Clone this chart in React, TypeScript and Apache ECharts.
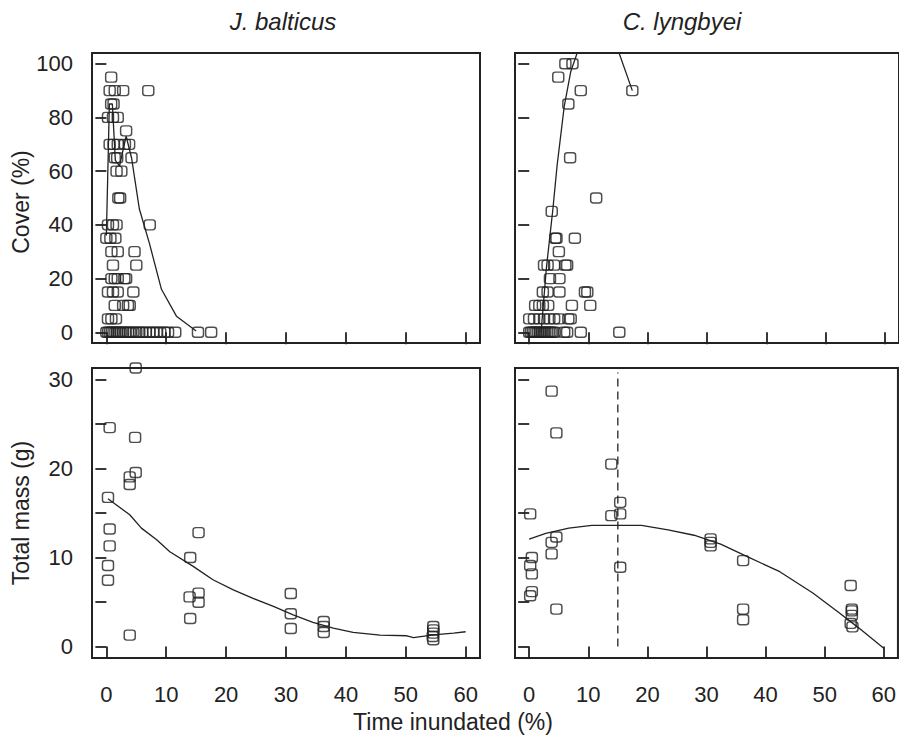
import React, { useEffect, useRef } from "react";
import * as echarts from "echarts";

// ---------- Data ----------
const xTicks = [0, 10, 20, 30, 40, 50, 60];
const coverTicks = [0, 20, 40, 60, 80, 100];
const massTicks = [0, 5, 10, 15, 20, 25, 30];
const massLabels = [0, 10, 20, 30];

// J. balticus – cover (%) vs time inundated (%)
const jbCoverX = [
  0.8,
  0.55, 1.4, 2.8, 7.0,
  0.8, 1.2,
  0.27, 1.1, 1.9,
  3.3,
  0.55, 1.2, 1.9, 3.1, 3.8,
  1.4, 1.8, 4.2,
  1.7, 2.5,
  2.0, 2.3,
  0.27, 1.1, 1.7, 7.25,
  0, 0.67, 1.5,
  0.84, 1.9, 4.7,
  1.1, 5.0,
  0.84, 1.4, 1.9, 3.0, 3.3,
  0.27, 1.1, 1.9, 4.5,
  1.4, 2.8, 3.6, 3.9,
  0.27, 0.84, 1.6,
  0, 0.3, 0.6, 0.9, 1.2, 1.5, 1.8, 2.1, 2.4, 2.8, 3.2, 3.6, 4.0, 4.5, 5.0, 5.5, 6.0, 6.6, 7.2, 7.8, 8.4, 9.0, 9.7, 10.3, 11.5, 15.3, 17.5,
];
const jbCoverY = [
  95,
  90, 90, 90, 90,
  85, 85,
  80, 80, 80,
  75,
  70, 70, 70, 70, 70,
  65, 65, 65,
  60, 60,
  50, 50,
  40, 40, 40, 40,
  35, 35, 35,
  30, 30, 30,
  25, 25,
  20, 20, 20, 20, 20,
  15, 15, 15, 15,
  10, 10, 10, 10,
  5, 5, 5,
  0, 0, 0, 0, 0, 0, 0, 0, 0, 0, 0, 0, 0, 0, 0, 0, 0, 0, 0, 0, 0, 0, 0, 0, 0, 0, 0,
];
const jbCoverFitX = [0, 0.5, 1.0, 1.5, 2.2, 3.3, 4.2, 5.5, 7.2, 9.2, 11.7, 15.0];
const jbCoverFitY = [36, 85, 85, 64, 62, 73, 65, 46, 33, 16, 6, 0.5];

// C. lyngbyei – cover (%) vs time inundated (%)
const clCoverX = [
  6.1, 7.3,
  4.9,
  8.7, 17.4,
  6.6,
  6.9,
  11.3,
  3.8,
  4.4, 4.6, 7.7,
  5.0,
  2.5, 3.1, 4.2, 6.1, 6.4,
  3.5, 5.1,
  2.3, 3.1, 5.1, 9.4, 9.8,
  1.0, 1.7, 2.3, 3.2, 7.2, 10.3,
  0, 0.8, 1.7, 2.5, 3.4, 4.2, 5.0, 6.6, 7.0,
  0, 0.3, 0.6, 0.9, 1.2, 1.5, 1.8, 2.1, 2.4, 2.7, 3.0, 3.3, 3.6, 3.9, 4.3, 5.9, 6.4, 8.7, 15.2,
];
const clCoverY = [
  100, 100,
  95,
  90, 90,
  85,
  65,
  50,
  45,
  35, 35, 35,
  30,
  25, 25, 25, 25, 25,
  20, 20,
  15, 15, 15, 15, 15,
  10, 10, 10, 10, 10, 10,
  5, 5, 5, 5, 5, 5, 5, 5, 5,
  0, 0, 0, 0, 0, 0, 0, 0, 0, 0, 0, 0, 0, 0, 0, 0, 0, 0, 0,
];
const clCoverFitX = [2.0, 2.9, 4.0, 4.7, 5.9, 7.0, 8.4, 10.0, 12.0, 14.0, 15.0, 17.4];
const clCoverFitY = [0, 24, 46, 62, 84, 97, 106, 115, 120, 114, 105, 90];

// J. balticus – total mass (g)
const jbMassX = [4.9, 0.55, 4.8, 4.9, 3.9, 3.9, 0.27, 0.55, 0.55, 0.27, 0.27, 3.9, 15.4, 14.0, 13.9, 15.4, 15.4, 14.0, 30.8, 30.8, 30.8, 36.3, 36.3, 36.3, 54.6, 54.6, 54.6, 54.5, 54.6];
const jbMassY = [31.3, 24.6, 23.5, 19.55, 19.06, 18.2, 16.75, 13.2, 11.3, 9.1, 7.44, 1.28, 12.8, 10.0, 5.57, 6.0, 4.97, 3.14, 5.95, 3.67, 2.02, 2.8, 2.24, 1.57, 2.24, 1.87, 1.5, 1.12, 0.75];
const jbMassFitX = [0.27, 3.9, 5.85, 8.4, 10.6, 14.5, 17.8, 21.2, 24.5, 27.9, 31.2, 34.5, 37.9, 41.2, 45.7, 50.2, 51.3, 54.6, 58.0, 60];
const jbMassFitY = [16.6, 14.8, 13.3, 12.0, 10.65, 9.0, 7.5, 6.35, 5.4, 4.5, 3.55, 2.7, 2.06, 1.57, 1.28, 1.2, 1.0, 1.3, 1.5, 1.65];

// C. lyngbyei – total mass (g)
const clMassX = [3.8, 4.6, 13.9, 15.4, 13.9, 15.4, 15.4, 0.17, 4.6, 3.8, 3.8, 0.45, 0.17, 0.45, 0.45, 0.17, 4.6, 30.7, 30.7, 30.7, 36.2, 36.2, 36.2, 54.4, 54.6, 54.6, 54.6, 54.4, 54.7];
const clMassY = [28.7, 24.0, 20.5, 16.2, 14.7, 14.9, 8.9, 14.9, 12.3, 11.7, 10.4, 10.0, 9.1, 8.15, 6.17, 5.7, 4.2, 12.1, 11.7, 11.3, 9.65, 4.2, 3.0, 6.85, 4.2, 4.0, 3.5, 2.6, 2.2];
const clMassFitX = [0, 2.8, 6.7, 10.6, 15.0, 19.0, 23.5, 27.9, 32.4, 36.9, 42.4, 48.0, 52.5, 55.8, 60];
const clMassFitY = [12.07, 12.7, 13.3, 13.6, 13.6, 13.6, 13.1, 12.5, 11.5, 10.1, 8.4, 6.0, 3.75, 2.06, -0.2];

// threshold (dashed vertical line)
const thresholdX = [15, 15];
const thresholdY = [0, 30.8];

const panelTitles = ["J. balticus", "C. lyngbyei"];
const yTitles = ["Cover (%)", "Total mass (g)"];
const xTitle = "Time inundated (%)";

// ---------- Helpers ----------
const FONT = "'Liberation Sans', Arial, Helvetica, sans-serif";
const INK = "#222";
const TICK_FS = 22;
const zip = (xs: number[], ys: number[]) => xs.map((x, i) => [x, ys[i]]);

function xAxisFor(gridIndex: number, showLabels: boolean) {
  return {
    type: "value",
    gridIndex,
    min: -2.4,
    max: 62.4,
    axisLine: { show: false },
    splitLine: { show: false },
    axisTick: { show: true, inside: false, length: 12, customValues: xTicks, lineStyle: { color: INK, width: 1.8 } },
    axisLabel: { show: showLabels, customValues: xTicks, margin: 25, fontSize: TICK_FS, color: INK, fontFamily: FONT },
  };
}

function yAxisFor(gridIndex: number, min: number, max: number, ticks: number[], labels: number[], showLabels: boolean) {
  return {
    type: "value",
    gridIndex,
    min,
    max,
    axisLine: { show: false },
    splitLine: { show: false },
    axisTick: { show: true, inside: false, length: 11, customValues: ticks, lineStyle: { color: INK, width: 1.8 } },
    axisLabel: { show: showLabels, customValues: labels, margin: 19, fontSize: TICK_FS, color: INK, fontFamily: FONT },
  };
}

function scatter(idx: number, xs: number[], ys: number[]) {
  return {
    type: "scatter",
    xAxisIndex: idx,
    yAxisIndex: idx,
    data: zip(xs, ys),
    symbol: "roundRect",
    symbolSize: [11, 10],
    itemStyle: { color: "rgba(0,0,0,0)", borderColor: INK, borderWidth: 1.4 },
    z: 3,
  };
}

function fitLine(idx: number, xs: number[], ys: number[], dashed = false) {
  return {
    type: "line",
    xAxisIndex: idx,
    yAxisIndex: idx,
    data: zip(xs, ys),
    showSymbol: false,
    symbol: "none",
    smooth: false,
    clip: true,
    lineStyle: { color: INK, width: 1.3, type: dashed ? [8, 5] : "solid" },
    z: 2,
  };
}

export default function App() {
  const ref = useRef<HTMLDivElement>(null);

  useEffect(() => {
    if (!ref.current) return;
    const chart = echarts.init(ref.current, undefined, { renderer: "svg" });

    const gridBase = { show: true, borderColor: INK, borderWidth: 2, backgroundColor: "transparent", containLabel: false };
    const option: any = {
      animation: false,
      backgroundColor: "#fff",
      grid: [
        { ...gridBase, left: 92, top: 53, width: 388, height: 290 },
        { ...gridBase, left: 515, top: 53, width: 388, height: 290 },
        { ...gridBase, left: 92, top: 368, width: 388, height: 290 },
        { ...gridBase, left: 515, top: 368, width: 388, height: 290 },
      ],
      xAxis: [xAxisFor(0, false), xAxisFor(1, false), xAxisFor(2, true), xAxisFor(3, true)],
      yAxis: [
        yAxisFor(0, -4, 104, coverTicks, coverTicks, true),
        yAxisFor(1, -4, 104, coverTicks, coverTicks, false),
        yAxisFor(2, -1.3, 31.3, massTicks, massLabels, true),
        yAxisFor(3, -1.3, 31.3, massTicks, massLabels, false),
      ],
      series: [
        fitLine(0, jbCoverFitX, jbCoverFitY),
        scatter(0, jbCoverX, jbCoverY),
        fitLine(1, clCoverFitX, clCoverFitY),
        scatter(1, clCoverX, clCoverY),
        fitLine(2, jbMassFitX, jbMassFitY),
        scatter(2, jbMassX, jbMassY),
        fitLine(3, clMassFitX, clMassFitY),
        fitLine(3, thresholdX, thresholdY, true),
        scatter(3, clMassX, clMassY),
      ],
      graphic: [
        { type: "text", x: 283, y: 21, style: { text: panelTitles[0], font: `italic 24px ${FONT}`, fill: INK, align: "center", verticalAlign: "middle" } },
        { type: "text", x: 682, y: 21, style: { text: panelTitles[1], font: `italic 24px ${FONT}`, fill: INK, align: "center", verticalAlign: "middle" } },
        { type: "text", x: 21, y: 202, rotation: Math.PI / 2, style: { text: yTitles[0], font: `23px ${FONT}`, fill: INK, align: "center", verticalAlign: "middle" } },
        { type: "text", x: 21, y: 513, rotation: Math.PI / 2, style: { text: yTitles[1], font: `23px ${FONT}`, fill: INK, align: "center", verticalAlign: "middle" } },
        { type: "text", x: 453, y: 722, style: { text: xTitle, font: `23px ${FONT}`, fill: INK, align: "center", verticalAlign: "middle" } },
      ],
    };

    chart.setOption(option);
    return () => chart.dispose();
  }, []);

  return <div ref={ref} style={{ position: "fixed", left: 0, top: 0, width: 899, height: 742 }} />;
}
